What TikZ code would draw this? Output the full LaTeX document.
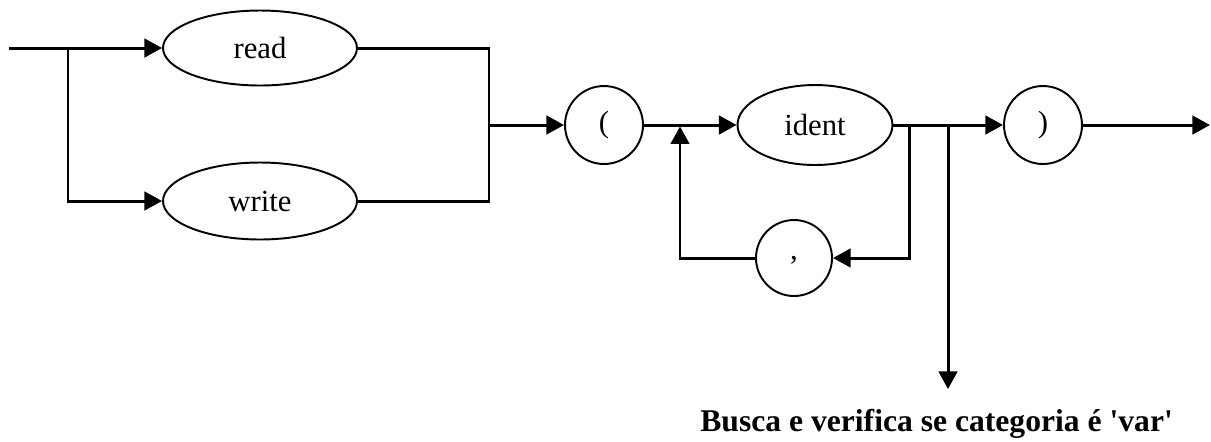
\documentclass[tikz,border=0pt]{standalone}
\usepackage{fontspec}
\setmainfont{Liberation Serif}
\usetikzlibrary{arrows.meta,shapes.geometric}

\tikzset{
  flow/.style={line width=1.7pt},
  arr/.style={flow,-{Triangle[length=10pt,width=10.5pt]}},
  term/.style={draw,ellipse,line width=1.1pt,inner sep=0pt,
    font=\fontsize{17.5}{20}\selectfont},
  sym/.style={draw,circle,line width=1.1pt,inner sep=0pt,minimum size=1.56cm,
    font=\fontsize{17.5}{20}\selectfont}
}

\begin{document}
\begin{tikzpicture}[x=0.02cm,y=-0.02cm]
  \useasboundingbox (0,0) rectangle (1211,441);

  % terminals
  \node[term,minimum width=3.88cm,minimum height=1.5cm] (read) at (260,48) {read};
  \node[term,minimum width=3.88cm,minimum height=1.54cm] (write) at (260,201) {write};
  \node[sym] (lparen) at (604,125) {(};
  \node[term,minimum width=3.1cm,minimum height=1.6cm] (ident) at (815,125) {ident};
  \node[sym,minimum size=1.52cm] (comma) at (794,258) {\raisebox{-4pt}{,}};
  \node[sym] (rparen) at (1043,125) {)};

  % junctions
  \coordinate (start) at (9,48);
  \coordinate (split) at (68,48);
  \coordinate (join) at (489,125);
  \coordinate (back) at (680,125);
  \coordinate (loop) at (909,125);
  \coordinate (check) at (948,125);
  \coordinate (stop) at (1210,125);

  \draw[arr] (start) -- (read);
  \draw[arr] (split) |- (write);
  \draw[flow] (read) -| (join) |- (write);
  \draw[arr] (join) -- (lparen);
  \draw[arr] (lparen) -- (ident);
  \draw[arr] (ident) -- (rparen);
  \draw[arr] (loop) |- (comma);
  \draw[arr] (comma) -| ([yshift=-0.8pt]back);
  \draw[arr] (check) -- (948,389);
  \draw[arr] (rparen) -- (stop);

  \node[anchor=base west,inner sep=0pt,font=\bfseries\fontsize{18}{20}\selectfont]
    (note) at (700,431) {Busca e verifica se categoria é \textquotesingle var\textquotesingle};
\end{tikzpicture}
\end{document}
